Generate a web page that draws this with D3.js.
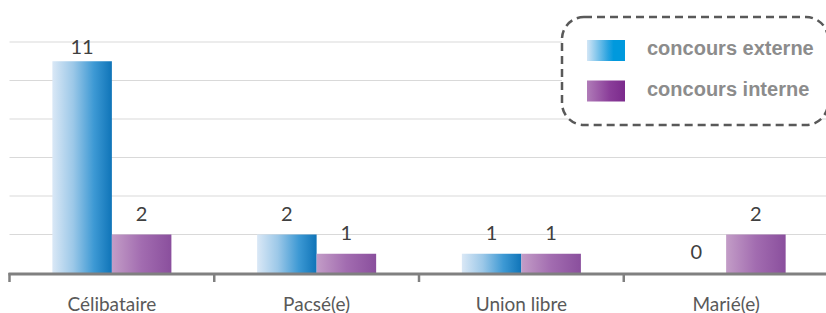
<!DOCTYPE html>
<html>
<head>
<meta charset="utf-8">
<script src="https://cdn.jsdelivr.net/npm/d3@7"></script>
<style>
  html, body { margin: 0; padding: 0; background: #fff; }
  svg { display: block; }
</style>
</head>
<body>
<div id="chart"></div>
<script>
const categories = ['Célibataire', 'Pacsé(e)', 'Union libre', 'Marié(e)'];
const seriesNames = ['concours externe', 'concours interne'];
const externe = [11, 2, 1, 0];
const interne = [2, 1, 1, 2];
const yTicks = [2, 4, 6, 8, 10, 12];

const width = 826, height = 313;
const margin = { top: 42, bottom: 40, left: 9.5, right: -2.5 };
const baseY = height - margin.bottom;

const svg = d3.select('#chart').append('svg')
  .attr('width', width)
  .attr('height', height);

const defs = svg.append('defs');

function gradient(id, stops) {
  const g = defs.append('linearGradient')
    .attr('id', id)
    .attr('x1', '0%').attr('x2', '100%')
    .attr('y1', '0%').attr('y2', '0%');
  stops.forEach(([o, c]) => g.append('stop').attr('offset', o).attr('stop-color', c));
}
gradient('barBlue', [['0%', '#dae8f6'], ['35%', '#9cc8e8'], ['70%', '#3d99d4'], ['100%', '#0f74b8']]);
gradient('barPurple', [['0%', '#c39dc7'], ['50%', '#a26cb0'], ['100%', '#8a4f9d']]);
gradient('legBlue', [['0%', '#d3e6f6'], ['55%', '#2aa3e0'], ['70%', '#0099dd'], ['100%', '#0099dd']]);
gradient('legPurple', [['0%', '#b07cb8'], ['60%', '#8a3d99'], ['100%', '#7b2a8c']]);

const fills = ['url(#barBlue)', 'url(#barPurple)'];
const legFills = ['url(#legBlue)', 'url(#legPurple)'];

const x0 = d3.scaleBand()
  .domain(categories)
  .range([margin.left, width - margin.right])
  .padding(0);

const x1 = d3.scaleBand()
  .domain(seriesNames)
  .range([0, x0.bandwidth()])
  .paddingInner(0)
  .paddingOuter(0.72);

const y = d3.scaleLinear()
  .domain([0, 12])
  .range([baseY, margin.top]);

// gridlines
svg.append('g')
  .selectAll('line')
  .data(yTicks)
  .join('line')
  .attr('x1', margin.left)
  .attr('x2', width)
  .attr('y1', d => y(d))
  .attr('y2', d => y(d))
  .attr('stroke', '#d9d9d9')
  .attr('stroke-width', 1);

const data = categories.map((c, i) => ({ cat: c, vals: [externe[i], interne[i]] }));

const groups = svg.append('g')
  .selectAll('g')
  .data(data)
  .join('g')
  .attr('transform', d => `translate(${x0(d.cat)},0)`);

groups.selectAll('rect')
  .data(d => d.vals.map((v, i) => ({ key: seriesNames[i], v, i })))
  .join('rect')
  .attr('x', d => x1(d.key))
  .attr('width', x1.bandwidth())
  .attr('y', d => y(d.v))
  .attr('height', d => y(0) - y(d.v))
  .attr('fill', d => fills[d.i]);

groups.selectAll('text')
  .data(d => d.vals.map((v, i) => ({ key: seriesNames[i], v, i })))
  .join('text')
  .attr('x', d => x1(d.key) + x1.bandwidth() / 2)
  .attr('y', d => Math.max(y(d.v) - 14, y(12) + 12))
  .attr('text-anchor', 'middle')
  .attr('font-family', 'Lato, "Open Sans", sans-serif')
  .attr('font-size', 20)
  .attr('fill', '#404040')
  .text(d => d.v);

// x axis
const xAxis = svg.append('g');
xAxis.append('line')
  .attr('x1', margin.left - 1)
  .attr('x2', width)
  .attr('y1', baseY + 1)
  .attr('y2', baseY + 1)
  .attr('stroke', '#808080')
  .attr('stroke-width', 3);

xAxis.selectAll('line.tick')
  .data(categories)
  .join('line')
  .attr('class', 'tick')
  .attr('x1', d => x0(d))
  .attr('x2', d => x0(d))
  .attr('y1', baseY)
  .attr('y2', baseY + 9)
  .attr('stroke', '#808080')
  .attr('stroke-width', 2.5);

xAxis.selectAll('text')
  .data(categories)
  .join('text')
  .attr('x', d => x0(d) + x0.bandwidth() / 2)
  .attr('y', baseY + 38)
  .attr('text-anchor', 'middle')
  .attr('font-family', 'Lato, "Open Sans", sans-serif')
  .attr('font-size', 19)
  .attr('fill', '#595959')
  .text(d => d);

// legend
const legend = svg.append('g');
legend.append('rect')
  .attr('x', 562)
  .attr('y', 17)
  .attr('width', 266)
  .attr('height', 108)
  .attr('rx', 22)
  .attr('fill', '#fff')
  .attr('stroke', '#595959')
  .attr('stroke-width', 2.5)
  .attr('stroke-dasharray', '8 5');

const items = legend.selectAll('g')
  .data(seriesNames)
  .join('g')
  .attr('transform', (d, i) => `translate(587,${40 + i * 40.5})`);

items.append('rect')
  .attr('width', 38)
  .attr('height', 21)
  .attr('fill', (d, i) => legFills[i]);

items.append('text')
  .attr('x', 60)
  .attr('y', 15)
  .attr('font-family', '"Liberation Sans", Arial, sans-serif')
  .attr('font-weight', 'bold')
  .attr('font-size', 20)
  .attr('fill', '#8c8c8c')
  .text(d => d);
</script>
</body>
</html>
